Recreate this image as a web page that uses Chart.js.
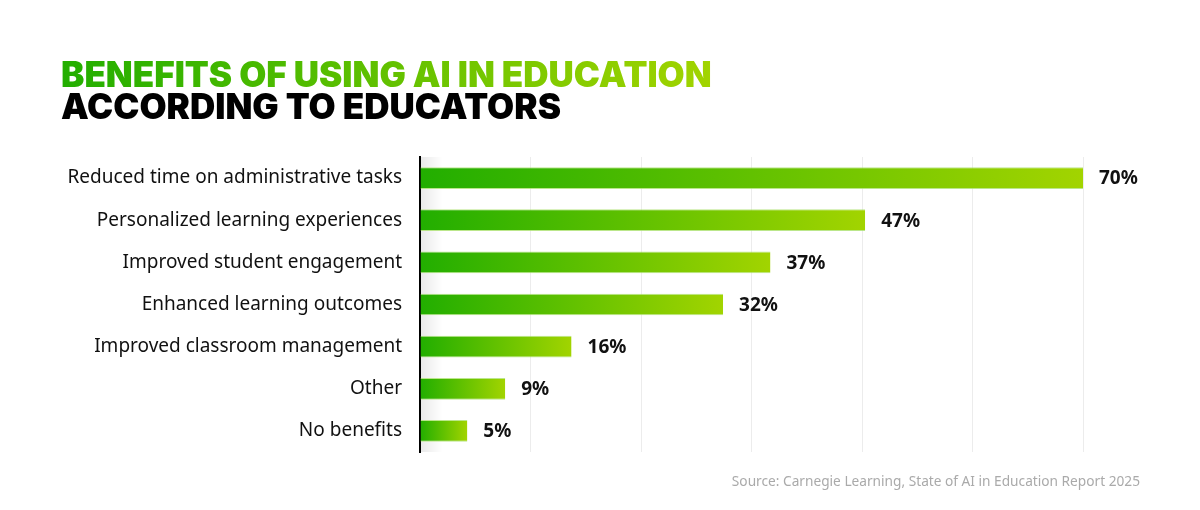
<!DOCTYPE html>
<html>
<head>
  <title>Benefits of using AI in education</title>
  <script src="https://cdn.jsdelivr.net/npm/chart.js"></script>
  <style>
    html, body { margin: 0; padding: 0; background: #fff; }
    #wrap { width: 1200px; height: 510px; position: relative; }
  </style>
</head>
<body>
  <div id="wrap"><canvas id="benefitsChart" width="1200" height="510"></canvas></div>

  <script>
    const categories = [
      'Reduced time on administrative tasks',
      'Personalized learning experiences',
      'Improved student engagement',
      'Enhanced learning outcomes',
      'Improved classroom management',
      'Other',
      'No benefits'
    ];
    const shares = [70, 47, 37, 32, 16, 9, 5];
    const axisMax = 70;
    const gridCount = 6;
    const titleLines = ['BENEFITS OF USING AI IN EDUCATION', 'ACCORDING TO EDUCATORS'];
    const sourceNote = 'Source: Carnegie Learning, State of AI in Education Report 2025';

    const dark = '#22ae00';
    const light = '#a2d400';

    // title, source line and the soft shadow next to the axis
    const decor = {
      id: 'decor',
      beforeDatasetsDraw(chart) {
        const { ctx, chartArea } = chart;
        const g = ctx.createLinearGradient(chartArea.left, 0, chartArea.left + 22, 0);
        g.addColorStop(0, 'rgba(0,0,0,0.09)');
        g.addColorStop(1, 'rgba(0,0,0,0)');
        ctx.save();
        ctx.fillStyle = g;
        ctx.fillRect(chartArea.left, chartArea.top, 22, chartArea.bottom - chartArea.top);
        ctx.restore();
      },
      afterDraw(chart) {
        const ctx = chart.ctx;
        ctx.save();
        ctx.font = '900 35px Inter';
        ctx.textBaseline = 'alphabetic';
        ctx.textAlign = 'left';
        const w = ctx.measureText(titleLines[0]).width;
        const tg = ctx.createLinearGradient(62, 0, 62 + w, 0);
        tg.addColorStop(0, dark);
        tg.addColorStop(1, light);
        ctx.fillStyle = tg;
        ctx.fillText(titleLines[0], 61, 87);
        ctx.fillStyle = '#000';
        ctx.fillText(titleLines[1], 61, 119);

        ctx.font = '13.7px "Noto Sans"';
        ctx.fillStyle = '#aaaaaa';
        ctx.textAlign = 'right';
        ctx.fillText(sourceNote, 1140, 486);
        ctx.restore();
      },
      afterDatasetsDraw(chart) {
        const ctx = chart.ctx;
        const meta = chart.getDatasetMeta(0);
        ctx.save();
        ctx.font = 'bold 19px "Noto Sans"';
        ctx.fillStyle = '#111';
        ctx.textAlign = 'left';
        ctx.textBaseline = 'middle';
        meta.data.forEach((bar, i) => {
          ctx.fillText(shares[i] + '%', bar.x + 16, bar.y + 1);
        });
        ctx.restore();
      }
    };

    new Chart(document.getElementById('benefitsChart'), {
      type: 'bar',
      data: {
        labels: categories,
        datasets: [{
          data: shares,
          backgroundColor: (c) => {
            const area = c.chart.chartArea;
            if (!area) return dark;
            const xs = c.chart.scales.x;
            const x0 = xs.getPixelForValue(0);
            const x1 = xs.getPixelForValue(shares[c.dataIndex]);
            const g = c.chart.ctx.createLinearGradient(x0, 0, x1, 0);
            g.addColorStop(0, dark);
            g.addColorStop(1, light);
            return g;
          },
          borderColor: 'rgba(170,225,110,0.8)',
          borderWidth: { top: 1, bottom: 1, left: 0, right: 0 },
          borderSkipped: false,
          barPercentage: 0.86,
          categoryPercentage: 0.6
        }]
      },
      options: {
        indexAxis: 'y',
        responsive: false,
        animation: false,
        layout: { padding: { top: 157, right: 117, bottom: 58, left: 0 } },
        plugins: {
          legend: { display: false },
          tooltip: { enabled: false }
        },
        scales: {
          x: {
            min: 0,
            max: axisMax,
            ticks: { display: false, stepSize: axisMax / gridCount },
            grid: { color: '#ececec', lineWidth: 1, drawTicks: false },
            border: { display: false }
          },
          y: {
            grid: { display: false, drawTicks: false },
            border: { color: '#000', width: 2 },
            ticks: {
              color: '#111',
              font: { family: 'Noto Sans', size: 19 },
              padding: 18
            },
            afterFit(scale) { scale.width = 420; }
          }
        }
      },
      plugins: [decor]
    });
  </script>
</body>
</html>
